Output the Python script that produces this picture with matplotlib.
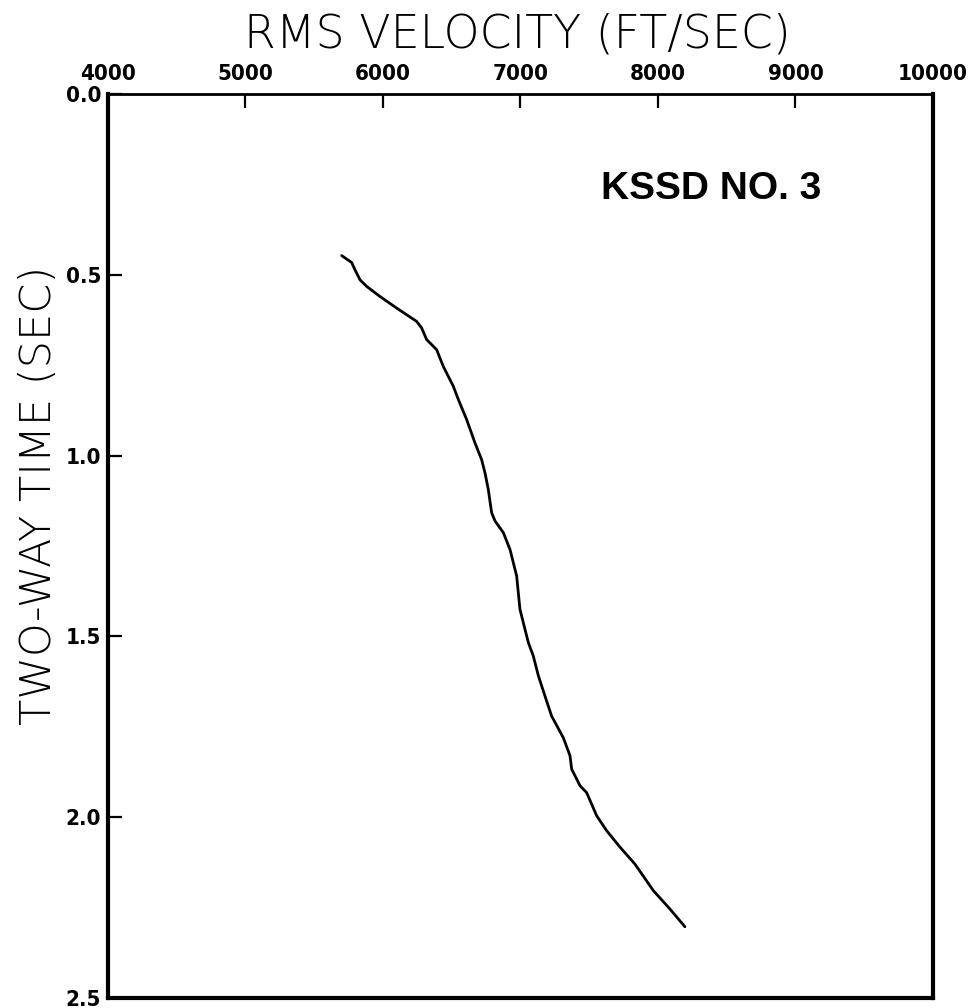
import matplotlib
matplotlib.use("Agg")
import matplotlib.pyplot as plt

# Data (RMS velocity in ft/s vs two-way time in s)
velocity = [5700, 5772, 5796, 5833, 5881, 5978, 6099, 6245, 6281, 6317, 6390,
            6438, 6511, 6548, 6608, 6669, 6717, 6742, 6766, 6790, 6815, 6875,
            6924, 6972, 6996, 7033, 7057, 7093, 7130, 7178, 7226, 7311, 7360,
            7372, 7433, 7481, 7554, 7626, 7724, 7833, 7966, 8087, 8196]
time = [0.447, 0.466, 0.486, 0.514, 0.532, 0.560, 0.592, 0.629, 0.647, 0.679,
        0.707, 0.753, 0.808, 0.845, 0.900, 0.965, 1.011, 1.048, 1.094, 1.158,
        1.181, 1.213, 1.260, 1.333, 1.425, 1.481, 1.517, 1.554, 1.609, 1.665,
        1.720, 1.780, 1.830, 1.867, 1.913, 1.932, 1.996, 2.037, 2.083, 2.130,
        2.203, 2.254, 2.303]

x_ticks = [4000, 5000, 6000, 7000, 8000, 9000, 10000]
x_ticklabels = ["4000", "5000", "6000", "7000", "8000", "9000", "10000"]
y_ticks = [0.0, 0.5, 1.0, 1.5, 2.0, 2.5]
y_ticklabels = ["0.0", "0.5", "1.0", "1.5", "2.0", "2.5"]

title_text = "RMS VELOCITY (FT/SEC)"
ylabel_text = "TWO-WAY TIME (SEC)"
well_label = "KSSD NO. 3"

fig = plt.figure(figsize=(9.76, 10.08), dpi=100)
ax = fig.add_axes([108 / 976, 1 - 998 / 1008, (933 - 108) / 976, (998 - 94) / 1008])

ax.plot(velocity, time, color="black", linewidth=2.0, solid_capstyle="round",
        solid_joinstyle="round")

ax.set_xlim(4000, 10000)
ax.set_ylim(2.5, 0.0)

ax.xaxis.tick_top()
ax.set_xticks(x_ticks)
ax.set_xticklabels(x_ticklabels)
ax.set_yticks(y_ticks)
ax.set_yticklabels(y_ticklabels)

for lab in ax.get_xticklabels() + ax.get_yticklabels():
    lab.set_fontfamily("DejaVu Sans")
    lab.set_fontstretch("condensed")
    lab.set_fontweight("bold")
    lab.set_fontsize(16)

ax.tick_params(axis="x", direction="in", length=10, width=1.6, pad=7, top=True, bottom=False)
ax.tick_params(axis="y", direction="in", length=10, width=1.6, pad=5, left=True, right=False)

for side in ["left", "right", "bottom"]:
    ax.spines[side].set_linewidth(3.0)
ax.spines["top"].set_linewidth(2.0)

fig.text(0.53, 0.9655, title_text, ha="center", va="center", fontsize=33,
         family="DejaVu Sans", fontweight="light")
fig.text(0.039, 0.508, ylabel_text, ha="center", va="center", rotation=90,
         fontsize=31, family="DejaVu Sans", fontweight="light")

ax.text(8385, 0.262, well_label, ha="center", va="center", fontsize=28,
        family=["Liberation Sans", "DejaVu Sans"], fontweight="bold")

fig.savefig("out.png", dpi=100)
